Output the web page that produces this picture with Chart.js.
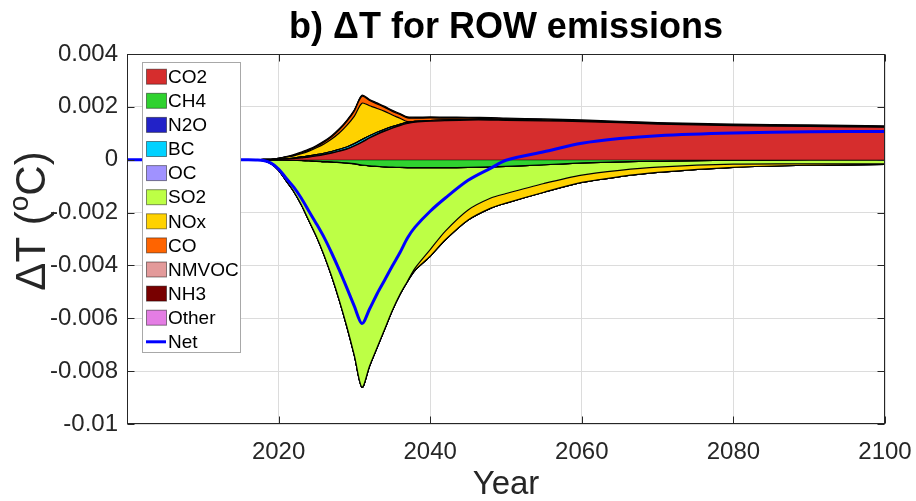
<!DOCTYPE html>
<html>
<head>
<meta charset="utf-8">
<script src="https://cdn.jsdelivr.net/npm/chart.js@4.4.1/dist/chart.umd.min.js"></script>
<style>
  html, body { margin: 0; padding: 0; background: #fff; }
  #wrap { width: 916px; height: 501px; }
</style>
</head>
<body>
<div id="wrap"><canvas id="chart" width="916" height="501"></canvas></div>
<script>
// years sampled from the figure (denser around the 2031 peak)
const years = [2000, 2015, 2016, 2017, 2018, 2019, 2020, 2021, 2022, 2023, 2024, 2025, 2026, 2027, 2028, 2029, 2030, 2031, 2032, 2033, 2034, 2035, 2036, 2037, 2038, 2040, 2042, 2045, 2048, 2050, 2055, 2060, 2065, 2070, 2080, 2090, 2100];

// temperature response per species (degC)
const co2 = [0, 0, 0, 0, 0, 0.000003, 0.00001, 0.00002, 0.00004, 0.00007, 0.0001, 0.00014, 0.00019, 0.00025, 0.00032, 0.0004, 0.00052, 0.00066, 0.00082, 0.00096, 0.00108, 0.00119, 0.00129, 0.00137, 0.00142, 0.00146, 0.00148, 0.0015, 0.0015, 0.00149, 0.00147, 0.00144, 0.0014, 0.00135, 0.00129, 0.00126, 0.00123];
const ch4 = [0, 0, 0, 0, 0, 0, -0.000005, -0.00001, -0.00002, -0.00003, -0.00004, -0.00005, -0.00007, -0.00008, -0.0001, -0.00012, -0.00015, -0.0002, -0.00023, -0.00025, -0.00027, -0.00028, -0.00029, -0.0003, -0.0003, -0.0003, -0.0003, -0.00029, -0.00027, -0.00025, -0.00019, -0.00012, -0.00008, -0.00005, -0.00002, 0, 0];
const n2o = [0, 0, 0, 0, 0, 0, 0, 0.000002, 0.000004, 0.000006, 0.000008, 0.00001, 0.00001, 0.00001, 0.00001, 0.00001, 0.00001, 0.00001, 0.00001, 0.00001, 0.00001, 0.00001, 0.00001, 0.00001, 0.00001, 0.00001, 0.00001, 0.00001, 0.00001, 0.00001, 0.00001, 0.00001, 0.00001, 0.00001, 0.00001, 0.00001, 0.00001];
const bc = [0, 0, 0, 0, 0, 0, 0.000005, 0.00001, 0.00002, 0.00003, 0.000035, 0.00004, 0.000045, 0.00005, 0.00006, 0.00007, 0.00008, 0.00009, 0.00008, 0.00007, 0.00006, 0.00005, 0.00004, 0.00003, 0.00002, 0.00001, 0.000005, 0, 0, 0, 0, 0, 0, 0, 0, 0, 0];
const oc = [0, 0, 0, 0, 0, 0, 0, -0.000002, -0.000004, -0.000006, -0.000008, -0.00001, -0.00001, -0.00001, -0.00001, -0.00001, -0.00001, -0.00001, -0.000008, -0.000006, -0.000005, -0.000004, -0.000003, -0.000002, -0.000002, -0.000001, 0, 0, 0, 0, 0, 0, 0, 0, 0, 0, 0];
const so2 = [0, 0, 0, -0.00001, -0.00004, -0.00015, -0.000395, -0.00079, -0.00118, -0.00167, -0.00226, -0.00285, -0.00353, -0.00432, -0.0052, -0.00618, -0.00725, -0.0084, -0.00757, -0.00685, -0.00613, -0.00542, -0.00481, -0.0043, -0.0038, -0.0031, -0.0024, -0.00161, -0.00118, -0.00103, -0.00071, -0.00046, -0.00032, -0.00023, -0.00015, -0.00016, -0.00016];
const nox = [0, 0, 0, 0, 0.00001, 0.000015, 0.00003, 0.00006, 0.00008, 0.00012, 0.00018, 0.00026, 0.00035, 0.00047, 0.00062, 0.00082, 0.00104, 0.00138, 0.00113, 0.0009, 0.00068, 0.00044, 0.00023, 0.00003, -0.00008, -0.00025, -0.00033, -0.00038, -0.00038, -0.00036, -0.00033, -0.00028, -0.00024, -0.0002, -0.00012, -0.00005, -0.00002];
const co = [0, 0, 0, 0, 0, 0, 0.000005, 0.00001, 0.00002, 0.00003, 0.00004, 0.00005, 0.00007, 0.00009, 0.00012, 0.00015, 0.0002, 0.00026, 0.0002, 0.00017, 0.00015, 0.00014, 0.00014, 0.00014, 0.00012, 0.0001, 0.00008, 0.00006, 0.00005, 0.00004, 0.00003, 0.00002, 0.00001, 0.00001, 0.00001, 0.00001, 0.00001];
const nmvoc = [0, 0, 0, 0, 0, 0, 0, 0.000003, 0.000006, 0.000008, 0.00001, 0.00001, 0.00001, 0.00001, 0.00001, 0.00001, 0.00001, 0.00001, 0.00001, 0.00001, 0.00001, 0.00001, 0.00001, 0.00001, 0.00001, 0.00001, 0.000008, 0.000007, 0.000006, 0.000006, 0.000005, 0.000005, 0.000005, 0.000005, 0.000005, 0.000005, 0.000005];
const nh3 = [0, 0, 0, 0, 0, 0, 0, 0, -0.000002, -0.000003, -0.000004, -0.000005, -0.000005, -0.000005, -0.000005, -0.000005, -0.000005, -0.000005, -0.000004, -0.000003, -0.000003, -0.000002, -0.000002, -0.000002, -0.000001, -0.000001, 0, 0, 0, 0, 0, 0, 0, 0, 0, 0, 0];
const other = [0, 0, 0, 0, 0, 0, 0.000005, 0.00001, 0.00002, 0.00003, 0.00003, 0.00003, 0.00003, 0.00003, 0.00003, 0.00003, 0.00003, 0.00003, 0.00003, 0.00003, 0.00003, 0.00003, 0.00003, 0.00003, 0.00003, 0.00003, 0.00003, 0.00003, 0.00003, 0.00003, 0.00003, 0.00003, 0.00003, 0.00003, 0.00003, 0.00003, 0.00003];
const net = [0, 0, 0, -0.00001, -0.00003, -0.00013, -0.00035, -0.0007, -0.00104, -0.00146, -0.00195, -0.00243, -0.00294, -0.00353, -0.00417, -0.00485, -0.00555, -0.0062, -0.00565, -0.00507, -0.00455, -0.00402, -0.00352, -0.00296, -0.00255, -0.00195, -0.00145, -0.00078, -0.00032, -0.00002, 0.0003, 0.00062, 0.0008, 0.00091, 0.00101, 0.00106, 0.00107];

const species = ['CO2', 'CH4', 'N2O', 'BC', 'OC', 'SO2', 'NOx', 'CO', 'NMVOC', 'NH3', 'Other'];
const speciesData = [co2, ch4, n2o, bc, oc, so2, nox, co, nmvoc, nh3, other];
const speciesColors = ['#d62d2d', '#2fd22f', '#2222c8', '#00d2ff', '#a092ff', '#bdff45', '#ffd200', '#ff6400', '#e39a9a', '#780000', '#e47de4'];
const netColor = '#0000ff';

const xTicks = [2020, 2040, 2060, 2080, 2100];
const yTicks = [0.004, 0.002, 0, -0.002, -0.004, -0.006, -0.008, -0.01];

const FONT = "'Liberation Sans', Arial, Helvetica, sans-serif";
const TEXT = '#262626';
const TENSION = 0.3;

// positive parts are stacked upwards, negative parts downwards (like two area() calls)
function stackedSet(i, sign) {
    const vals = speciesData[i].map(v => sign > 0 ? Math.max(v, 0) : Math.min(v, 0));
    return {
        label: species[i] + (sign > 0 ? ' +' : ' -'),
        data: years.map((yr, k) => ({ x: yr, y: vals[k] })),
        stack: sign > 0 ? 'pos' : 'neg',
        backgroundColor: speciesColors[i],
        borderColor: '#000',
        borderWidth: 1.2,
        fill: i === 0 ? 'origin' : '-1',
        pointRadius: 0,
        tension: TENSION,
        order: 1
    };
}

const datasets = [];
species.forEach((s, i) => datasets.push(stackedSet(i, 1)));
species.forEach((s, i) => datasets.push(stackedSet(i, -1)));
datasets.push({
    label: 'Net',
    data: years.map((yr, k) => ({ x: yr, y: net[k] })),
    stack: 'net',
    borderColor: netColor,
    borderWidth: 3,
    fill: false,
    pointRadius: 0,
    tension: TENSION,
    order: 0
});

const decor = {
    id: 'decor',
    afterDraw(chart) {
        const { ctx, chartArea: a, scales } = chart;
        ctx.save();

        // axes box + inward ticks
        ctx.strokeStyle = TEXT;
        ctx.lineWidth = 1;
        const L = Math.round(a.left) + 0.5, R = Math.round(a.right) - 0.5;
        const T = Math.round(a.top) + 0.5, B = Math.round(a.bottom) - 0.5;
        ctx.strokeRect(L, T, R - L, B - T);
        ctx.beginPath();
        xTicks.forEach(v => {
            const px = Math.round(scales.x.getPixelForValue(v)) + 0.5;
            ctx.moveTo(px, B); ctx.lineTo(px, B - 7);
            ctx.moveTo(px, T); ctx.lineTo(px, T + 7);
        });
        yTicks.forEach(v => {
            const py = Math.round(scales.y.getPixelForValue(v)) + 0.5;
            ctx.moveTo(L, py); ctx.lineTo(L + 7, py);
            ctx.moveTo(R, py); ctx.lineTo(R - 7, py);
        });
        ctx.stroke();

        // title
        ctx.fillStyle = '#000';
        ctx.font = 'bold 36px ' + FONT;
        ctx.textAlign = 'center';
        ctx.textBaseline = 'alphabetic';
        ctx.fillText('b) \u0394T for ROW emissions', (a.left + a.right) / 2, 38);

        // y axis title with superscript o
        ctx.save();
        ctx.translate(45, 221);
        ctx.rotate(-Math.PI / 2);
        ctx.fillStyle = TEXT;
        const big = '42px ' + FONT, small = '28px ' + FONT;
        ctx.font = big;
        const w1 = ctx.measureText('\u0394T (').width;
        const w3 = ctx.measureText('C)').width;
        ctx.font = small;
        const w2 = ctx.measureText('o').width;
        const x0 = -(w1 + w2 + w3) / 2;
        ctx.textAlign = 'left';
        ctx.font = big;
        ctx.fillText('\u0394T (', x0, 0);
        ctx.font = small;
        ctx.fillText('o', x0 + w1, -17);
        ctx.font = big;
        ctx.fillText('C)', x0 + w1 + w2, 0);
        ctx.restore();

        // legend
        const lx = 142.5, ly = 62.5, lw = 98, lh = 290;
        ctx.fillStyle = '#fff';
        ctx.fillRect(lx, ly, lw, lh);
        ctx.strokeStyle = '#a8a8a8';
        ctx.strokeRect(lx, ly, lw, lh);
        ctx.font = '19px ' + FONT;
        ctx.textAlign = 'left';
        ctx.textBaseline = 'middle';
        const rowH = 24.1;
        species.forEach((s, i) => {
            const cy = 76.7 + i * rowH;
            ctx.fillStyle = speciesColors[i];
            ctx.fillRect(146.5, cy - 7.5, 20, 15);
            ctx.strokeStyle = 'rgba(0,0,0,0.45)';
            ctx.strokeRect(146.5, cy - 7.5, 20, 15);
            ctx.fillStyle = '#000';
            ctx.fillText(s, 168, cy + 1);
        });
        const ny = 76.7 + species.length * rowH;
        ctx.strokeStyle = netColor;
        ctx.lineWidth = 3;
        ctx.beginPath();
        ctx.moveTo(146, ny); ctx.lineTo(166, ny);
        ctx.stroke();
        ctx.fillStyle = '#000';
        ctx.fillText('Net', 168, ny + 1);

        ctx.restore();
    }
};

new Chart(document.getElementById('chart'), {
    type: 'line',
    data: { datasets },
    options: {
        responsive: false,
        animation: false,
        devicePixelRatio: 1,
        layout: { padding: { top: 54, right: 31, left: 0, bottom: 0 } },
        plugins: {
            legend: { display: false },
            title: { display: false },
            tooltip: { enabled: false }
        },
        scales: {
            x: {
                type: 'linear',
                min: 2000,
                max: 2100,
                afterBuildTicks: s => { s.ticks = xTicks.map(v => ({ value: v })); },
                afterFit: s => { s.height = 77; },
                ticks: { font: { family: FONT, size: 24 }, color: TEXT, padding: 0, maxRotation: 0, autoSkip: false, callback: v => String(v) },
                grid: { color: '#dcdcdc', drawTicks: true, tickLength: 14, tickColor: 'rgba(0,0,0,0)' },
                border: { display: false },
                title: { display: true, text: 'Year', font: { family: FONT, size: 33 }, color: TEXT, padding: { top: 0, bottom: -4 } }
            },
            y: {
                stacked: true,
                min: -0.01,
                max: 0.004,
                afterBuildTicks: s => { s.ticks = yTicks.map(v => ({ value: v })); },
                afterFit: s => { s.width = 127; },
                ticks: {
                    font: { family: FONT, size: 24 },
                    color: TEXT,
                    padding: 9,
                    autoSkip: false,
                    callback: v => String(Number(v.toFixed(3)))
                },
                grid: { color: '#dcdcdc', drawTicks: false },
                border: { display: false }
            }
        }
    },
    plugins: [decor]
});
</script>
</body>
</html>
